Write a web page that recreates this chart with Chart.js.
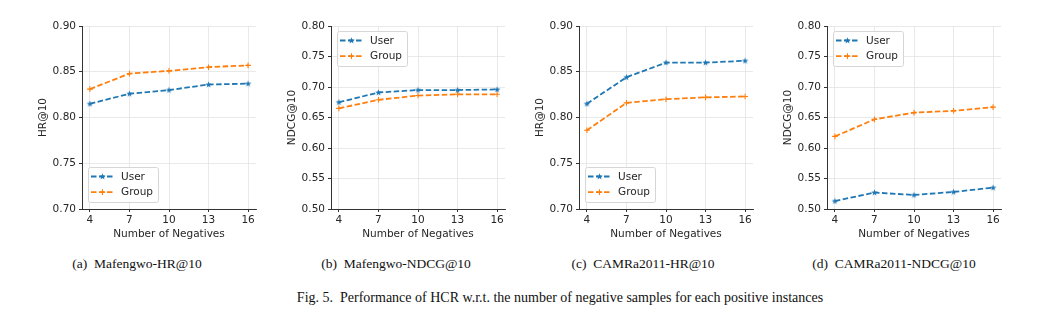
<!DOCTYPE html>
<html>
<head>
<meta charset="utf-8">
<script src="https://cdn.jsdelivr.net/npm/chart.js@4/dist/chart.umd.min.js"></script>
<style>
  body { margin: 0; background: #fff; width: 1049px; height: 332px; position: relative; overflow: hidden; }
  .panel { position: absolute; top: 10px; width: 240px; height: 240px; }
  .cap { position: absolute; font-family: "Liberation Serif", "Times New Roman", serif; font-size: 13.5px; color: #111; white-space: pre; text-align: center; line-height: 16px; }
</style>
</head>
<body>
<div class="panel" style="left:30px"><canvas id="c1" width="240" height="240"></canvas></div>
<div class="panel" style="left:279px"><canvas id="c2" width="240" height="240"></canvas></div>
<div class="panel" style="left:527px"><canvas id="c3" width="240" height="240"></canvas></div>
<div class="panel" style="left:775px"><canvas id="c4" width="240" height="240"></canvas></div>

<div class="cap" style="left:37px; top:256px; width:200px">(a)  Mafengwo-HR@10</div>
<div class="cap" style="left:296px; top:256px; width:200px">(b)  Mafengwo-NDCG@10</div>
<div class="cap" style="left:543px; top:256px; width:200px">(c)  CAMRa2011-HR@10</div>
<div class="cap" style="left:794px; top:256px; width:200px">(d)  CAMRa2011-NDCG@10</div>
<div class="cap" style="left:260px; top:290px; width:600px; font-size:14px">Fig. 5.  Performance of HCR w.r.t. the number of negative samples for each positive instances</div>

<script>
// number of negative samples per positive instance
const negatives = [4, 7, 10, 13, 16];

// Mafengwo
const mafengwoHrUser = [0.815, 0.826, 0.830, 0.836, 0.837];
const mafengwoHrGroup = [0.831, 0.848, 0.851, 0.855, 0.857];
const mafengwoNdcgUser = [0.675, 0.691, 0.695, 0.695, 0.696];
const mafengwoNdcgGroup = [0.665, 0.679, 0.686, 0.688, 0.688];

// CAMRa2011
const camraHrUser = [0.815, 0.844, 0.860, 0.860, 0.862];
const camraHrGroup = [0.786, 0.816, 0.820, 0.822, 0.823];
const camraNdcgUser = [0.513, 0.527, 0.523, 0.528, 0.535];
const camraNdcgGroup = [0.619, 0.647, 0.658, 0.661, 0.667];

const hrTicks = [0.70, 0.75, 0.80, 0.85, 0.90];
const ndcgTicks = [0.50, 0.55, 0.60, 0.65, 0.70, 0.75, 0.80];

const BLUE = '#1f77b4';
const ORANGE = '#ff7f0e';
const TEXT = '#262626';

Chart.defaults.font.family = '"DejaVu Sans", sans-serif';
Chart.defaults.font.size = 10.5;
Chart.defaults.color = TEXT;

// small filled star used as the "User" marker
function starMarker(color) {
  const c = document.createElement('canvas');
  c.width = 9; c.height = 9;
  const g = c.getContext('2d');
  g.beginPath();
  for (let i = 0; i < 10; i++) {
    const r = i % 2 === 0 ? 3.4 : 1.4;
    const a = -Math.PI / 2 + i * Math.PI / 5;
    const px = 4.5 + r * Math.cos(a), py = 4.7 + r * Math.sin(a);
    if (i === 0) g.moveTo(px, py); else g.lineTo(px, py);
  }
  g.closePath();
  g.fillStyle = color;
  g.fill();
  return c;
}
const userStar = starMarker(BLUE);

function drawMarker(ctx, ds, x, y) {
  if (ds.pointStyle === 'cross') {
    ctx.setLineDash([]);
    ctx.strokeStyle = ds.borderColor;
    ctx.lineWidth = 1.1;
    ctx.beginPath();
    ctx.moveTo(x - 2.8, y); ctx.lineTo(x + 2.8, y);
    ctx.moveTo(x, y - 2.8); ctx.lineTo(x, y + 2.8);
    ctx.stroke();
  } else {
    ctx.drawImage(ds.pointStyle, x - 4.5, y - 4.5);
  }
}

// legend box drawn inside the plot area
const insideLegend = {
  id: 'insideLegend',
  afterDraw(chart, args, opts) {
    const ctx = chart.ctx;
    const area = chart.chartArea;
    const w = 70, h = 35;
    const x = Math.round(area.left + 6);
    const y = Math.round(opts.corner === 'upper' ? area.top + 5 : area.bottom - 7 - h);
    ctx.save();
    ctx.beginPath();
    ctx.roundRect(x + 0.5, y + 0.5, w, h, 2);
    ctx.fillStyle = 'rgba(255,255,255,0.85)';
    ctx.fill();
    ctx.strokeStyle = '#d6d6d6';
    ctx.lineWidth = 1;
    ctx.stroke();
    chart.data.datasets.forEach((ds, i) => {
      const cy = y + 9.5 + i * 15.6;
      ctx.setLineDash(ds.borderDash);
      ctx.strokeStyle = ds.borderColor;
      ctx.lineWidth = ds.borderWidth;
      ctx.beginPath();
      ctx.moveTo(x + 3, cy);
      ctx.lineTo(x + 26, cy);
      ctx.stroke();
      drawMarker(ctx, ds, x + 14.5, cy);
      ctx.fillStyle = TEXT;
      ctx.font = '10.5px "DejaVu Sans", sans-serif';
      ctx.textBaseline = 'middle';
      ctx.fillText(ds.label, x + 33, cy + 0.5);
    });
    ctx.restore();
  }
};

function series(label, values, color, marker) {
  return {
    label: label,
    data: values.map((v, i) => ({ x: negatives[i], y: v })),
    borderColor: color,
    backgroundColor: color,
    borderWidth: 1.8,
    borderDash: [5.5, 2.5],
    pointStyle: marker,
    pointRadius: 2.8,
    pointBorderWidth: 1.1,
    tension: 0
  };
}

function makePanel(id, yTitle, yTicks, userVals, groupVals, corner) {
  new Chart(document.getElementById(id), {
    type: 'line',
    data: {
      datasets: [
        series('User', userVals, BLUE, userStar),
        series('Group', groupVals, ORANGE, 'cross')
      ]
    },
    options: {
      responsive: false,
      animation: false,
      events: [],
      layout: { padding: { left: 0, top: 16, right: 14, bottom: 0 } },
      plugins: {
        legend: { display: false },
        tooltip: { enabled: false },
        insideLegend: { corner: corner }
      },
      scales: {
        x: {
          type: 'linear',
          min: 3.4,
          max: 16.6,
          afterBuildTicks: s => { s.ticks = negatives.map(v => ({ value: v })); },
          afterFit: s => { s.height = 41; },
          ticks: { padding: 2, color: TEXT, callback: v => String(v) },
          grid: { color: '#e3e3e3', lineWidth: 0.8, borderDash: [2, 2], tickLength: 3, tickColor: '#333', tickBorderDash: [], tickWidth: 1 },
          border: { display: true, color: '#333', width: 1 },
          title: { display: true, text: 'Number of Negatives', color: TEXT, padding: { top: 0, bottom: 9 } }
        },
        y: {
          min: yTicks[0],
          max: yTicks[yTicks.length - 1],
          afterBuildTicks: s => { s.ticks = yTicks.map(v => ({ value: v })); },
          afterFit: s => { s.width = 52; },
          ticks: { padding: 3, color: TEXT, callback: v => v.toFixed(2) },
          grid: { color: '#e3e3e3', lineWidth: 0.8, borderDash: [2, 2], tickLength: 3, tickColor: '#333', tickBorderDash: [], tickWidth: 1 },
          border: { display: true, color: '#333', width: 1 },
          title: { display: true, text: yTitle, color: TEXT, padding: { top: 7, bottom: 0 } }
        }
      }
    },
    plugins: [insideLegend]
  });
}

makePanel('c1', 'HR@10', hrTicks, mafengwoHrUser, mafengwoHrGroup, 'lower');
makePanel('c2', 'NDCG@10', ndcgTicks, mafengwoNdcgUser, mafengwoNdcgGroup, 'upper');
makePanel('c3', 'HR@10', hrTicks, camraHrUser, camraHrGroup, 'lower');
makePanel('c4', 'NDCG@10', ndcgTicks, camraNdcgUser, camraNdcgGroup, 'upper');
</script>
</body>
</html>
